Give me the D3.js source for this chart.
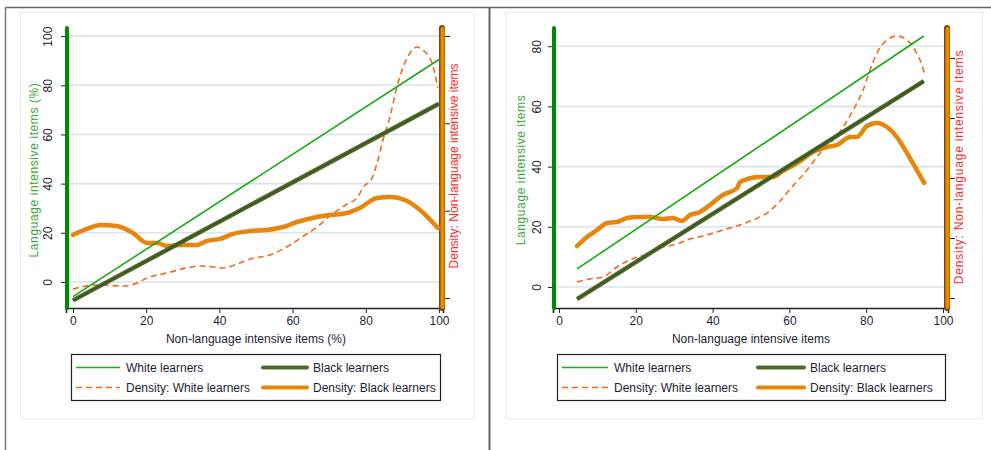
<!DOCTYPE html>
<html>
<head>
<meta charset="utf-8">
<script src="https://cdn.jsdelivr.net/npm/d3@7"></script>
<style>
  body { margin: 0; background: #fff; }
  svg { display: block; font-family: "Liberation Sans", Arial, sans-serif; }
</style>
</head>
<body>
<div class="chart"></div>
<script>
// ===== DATA =====
// panel 1: all items (%), panel 2: items
const fitX1 = [0, 100];
const white1 = [-6, 90.5];
const black1 = [-7.5, 72.5];

const densWx1 = [0, 6.6, 13.7, 17.5, 20.2, 25.7, 31.1, 34.7, 38.3, 41, 45.6, 48.4, 53.8, 59.3, 63.4, 66.7, 70.2, 74.9, 77.6, 79.8, 81.1, 83.1, 84.7, 86.6, 88.5, 90.2, 92.1, 94, 95.6, 98.1, 99.7];
const densWy1 = [1.03, 1.49, 1.37, 1.72, 2.29, 2.86, 3.44, 3.66, 3.55, 3.44, 4.01, 4.47, 4.92, 6.07, 7.21, 8.13, 9.39, 10.76, 11.45, 12.94, 13.28, 15.46, 18.09, 20.73, 24.16, 26.45, 28.05, 28.74, 28.4, 26.91, 24.05];
const densBx1 = [0, 3.8, 7.4, 12, 16.4, 20.2, 23, 25.7, 29.2, 33.9, 36.6, 40.2, 43.7, 48.4, 53, 57.4, 61.2, 66.7, 70.2, 74.9, 78.4, 83.1, 86.6, 91.3, 94.8, 99.7];
const densBy1 = [7.21, 7.9, 8.36, 8.24, 7.44, 6.3, 6.3, 5.95, 6.07, 6.07, 6.53, 6.76, 7.33, 7.67, 7.79, 8.13, 8.7, 9.28, 9.5, 9.73, 10.31, 11.45, 11.57, 11.11, 10.08, 8.02];

const fitX2 = [4.7, 95];
const white2 = [6.0, 83.4];
const black2 = [-4.0, 68.4];

const densWx2 = [4.7, 8.1, 11.5, 15.1, 18.5, 22.9, 27.1, 30.7, 34.1, 37.5, 42.7, 47.1, 50.5, 54.2, 57.6, 60.2, 64.6, 68, 71.4, 74, 76.6, 79.2, 81, 82.8, 85.4, 88, 90.6, 92.7, 94.5, 95.3];
const densWy2 = [2.67, 3.17, 3.5, 5.17, 6.33, 7.33, 8.5, 9, 9.83, 10.33, 11.33, 12.17, 13, 14.17, 16.17, 18.17, 21.33, 24.17, 26.33, 28.5, 31.33, 34.67, 38, 40.83, 43, 43.67, 43, 41.33, 38.83, 37.17];
const densBx2 = [4.7, 7.3, 9.9, 12.5, 15.1, 17.7, 20.3, 23.7, 27.1, 29.7, 32, 34.1, 36.7, 39.3, 42.7, 46.4, 47.1, 52.3, 55.7, 58.3, 62.8, 66.1, 69.8, 72.4, 75.8, 77.6, 80.2, 82.8, 85.4, 88, 90.6, 93.2, 95.1];
const densBy2 = [8.67, 10.17, 11.33, 12.5, 12.67, 13.33, 13.5, 13.5, 13.17, 13.33, 12.83, 13.83, 14.33, 15.5, 17.17, 18.33, 19.33, 20.17, 20.17, 21.17, 22.83, 24.33, 25.17, 25.5, 26.83, 26.83, 28.67, 29.17, 28.5, 26.83, 24.17, 21.33, 19.17];

const xTicks = [0, 20, 40, 60, 80, 100];
const yTicks1 = [0, 20, 40, 60, 80, 100];
const yTicks2 = [0, 20, 40, 60, 80];
const densTicks1 = [0, 10, 20, 30];       // density x 1000
const densTicks2 = [0, 10, 20, 30, 40];

const legendLabels = ["White learners", "Black learners", "Density: White learners", "Density: Black learners"];

// ===== STYLES =====
const C = {
  white: "#18a818",
  black: "#4f6b2c",
  blackEdge: "#3a4f1e",
  densW: "#f26a1c",
  densB: "#e8850c",
  grid: "#d9e3ea",
  text: "#1e1e32",
  yTitle: "#3aa63a",
  y2Title: "#ff2b2b"
};

const svg = d3.select(".chart").append("svg")
  .attr("width", 991).attr("height", 450);

// outer frames
svg.append("line").attr("x1", 5).attr("x2", 991).attr("y1", 7.5).attr("y2", 7.5).attr("stroke", "#666").attr("stroke-width", 1.5);
svg.append("line").attr("x1", 5.5).attr("x2", 5.5).attr("y1", 7).attr("y2", 450).attr("stroke", "#777").attr("stroke-width", 1.5);
svg.append("line").attr("x1", 489.5).attr("x2", 489.5).attr("y1", 7).attr("y2", 450).attr("stroke", "#666").attr("stroke-width", 2);

function drawPanel(p) {
  const g = svg.append("g");

  // light inner frame
  g.append("rect")
    .attr("x", p.frame[0]).attr("y", 12.5)
    .attr("width", p.frame[1] - p.frame[0]).attr("height", 406.5)
    .attr("fill", "none").attr("stroke", "#e4ecef").attr("stroke-width", 1);

  const x = d3.scaleLinear().domain(p.xDom).range([p.xr[0], p.xr[1]]);
  const y = d3.scaleLinear().domain(p.yDom).range([308, 28]);
  const y2 = d3.scaleLinear().domain(p.y2Dom).range([308, 28]);

  // gridlines
  g.append("g").selectAll("line").data(p.yTicks).join("line")
    .attr("x1", p.xr[0] + 3).attr("x2", p.xr[1] - 3)
    .attr("y1", d => y(d)).attr("y2", d => y(d))
    .attr("stroke", C.grid).attr("stroke-width", 1.6);

  // x axis
  const xAxis = g.append("g").attr("transform", "translate(0,308)")
    .call(d3.axisBottom(x).tickValues(xTicks).tickSize(5).tickPadding(3));
  xAxis.select(".domain").attr("stroke", "#222").attr("stroke-width", 1.6);
  xAxis.selectAll(".tick line").attr("stroke", "#222");
  xAxis.selectAll("text").attr("font-size", 12).attr("fill", C.text);

  g.append("text")
    .attr("x", (x(0) + x(100)) / 2).attr("y", 343)
    .attr("text-anchor", "middle").attr("font-size", 12).attr("fill", C.text)
    .text(p.xTitle);

  // left y axis, labels turned upright
  const yAxis = g.append("g").attr("transform", `translate(${p.xr[0]},0)`)
    .call(d3.axisLeft(y).tickValues(p.yTicks).tickSize(5));
  yAxis.select(".domain").remove();
  yAxis.selectAll(".tick line").attr("stroke", "#222");
  yAxis.selectAll(".tick text")
    .attr("font-size", 12).attr("fill", C.text)
    .attr("text-anchor", "middle").attr("x", 0).attr("dy", "0.35em")
    .attr("transform", `translate(${p.yLabOff},0) rotate(-90)`);
  g.append("line")
    .attr("x1", p.xr[0] + 1).attr("x2", p.xr[0] + 1).attr("y1", 28).attr("y2", 308)
    .attr("stroke", "#008a00").attr("stroke-width", 4).attr("stroke-linecap", "round");

  g.append("text")
    .attr("transform", `translate(${p.yTitleX},${(y.range()[0] + y.range()[1]) / 2 + 2}) rotate(-90)`)
    .attr("text-anchor", "middle").attr("font-size", 12).attr("fill", C.yTitle)
    .attr("letter-spacing", 0.6)
    .text(p.yTitle);

  // right y axis (density)
  const y2Axis = g.append("g").attr("transform", `translate(${p.xr[1] + 2},0)`)
    .call(d3.axisRight(y2).tickValues(p.y2Ticks).tickSize(5).tickFormat(""));
  y2Axis.select(".domain").remove();
  y2Axis.selectAll(".tick line").attr("stroke", "#222");
  g.append("line")
    .attr("x1", p.xr[1] - 1).attr("x2", p.xr[1] - 1).attr("y1", 28).attr("y2", 308)
    .attr("stroke", "#7a4a10").attr("stroke-width", 6).attr("stroke-linecap", "round");
  g.append("line")
    .attr("x1", p.xr[1] - 0.5).attr("x2", p.xr[1] - 0.5).attr("y1", 29).attr("y2", 307)
    .attr("stroke", "#ee8a00").attr("stroke-width", 4).attr("stroke-linecap", "round");

  g.append("text")
    .attr("transform", `translate(${p.y2TitleX},${p.y2TitleY}) rotate(-90)`)
    .attr("text-anchor", "middle").attr("font-size", 12).attr("fill", C.y2Title)
    .attr("letter-spacing", p.y2Spacing)
    .text("Density: Non-language intensive items");

  // series
  const line = d3.line().x(d => x(d[0])).y(d => y(d[1]));
  const dline = d3.line().x(d => x(d[0])).y(d => y2(d[1])).curve(d3.curveMonotoneX);

  g.append("path").datum(d3.zip(p.densWx, p.densWy)).attr("d", dline)
    .attr("fill", "none").attr("stroke", C.densW).attr("stroke-width", 1.6)
    .attr("stroke-dasharray", "6,4");
  g.append("path").datum(d3.zip(p.densBx, p.densBy)).attr("d", dline)
    .attr("fill", "none").attr("stroke", C.densB).attr("stroke-width", 4.5)
    .attr("stroke-linejoin", "round").attr("stroke-linecap", "round");
  g.append("path").datum(d3.zip(p.fitX, p.black)).attr("d", line)
    .attr("fill", "none").attr("stroke", C.black).attr("stroke-width", 4.5);
  g.append("path").datum(d3.zip(p.fitX, p.black)).attr("d", line)
    .attr("fill", "none").attr("stroke", C.blackEdge).attr("stroke-width", 1.2);
  g.append("path").datum(d3.zip(p.fitX, p.white)).attr("d", line)
    .attr("fill", "none").attr("stroke", C.white).attr("stroke-width", 1.6);

  // legend
  const L = p.legend;
  g.append("rect").attr("x", L.x + 0.5).attr("y", 354.5).attr("width", L.w).attr("height", 46)
    .attr("fill", "#fff").attr("stroke", "#222").attr("stroke-width", 1.2);
  const styles = [
    { stroke: C.white, w: 1.6, dash: null },
    { stroke: C.black, w: 4, dash: null },
    { stroke: C.densW, w: 1.6, dash: "6,4" },
    { stroke: C.densB, w: 4, dash: null }
  ];
  legendLabels.forEach((lab, i) => {
    const col = i % 2, row = Math.floor(i / 2);
    const lx = L.x + L.col[col], ly = 367.5 + row * 20;
    g.append("line").attr("x1", lx).attr("x2", lx + L.sw).attr("y1", ly).attr("y2", ly)
      .attr("stroke", styles[i].stroke).attr("stroke-width", styles[i].w)
      .attr("stroke-dasharray", styles[i].dash).attr("stroke-linecap", i % 2 ? "round" : "butt");
    g.append("text").attr("x", lx + L.sw + 6).attr("y", ly + 4.5)
      .attr("font-size", 12).attr("fill", C.text).text(lab);
  });
}

drawPanel({
  frame: [20.5, 474.5],
  xr: [66, 443], xDom: [-1.9, 101.1],
  yDom: [-10.6, 103.3], y2Dom: [-1.15, 30.92],
  yTicks: yTicks1, y2Ticks: densTicks1, yLabOff: -18,
  xTitle: "Non-language intensive items (%)",
  yTitle: "Language intensive items (%)", yTitleX: 38,
  y2TitleX: 458, y2TitleY: 166, y2Spacing: 0,
  fitX: fitX1, white: white1, black: black1,
  densWx: densWx1, densWy: densWy1, densBx: densBx1, densBy: densBy1,
  legend: { x: 71, w: 369, col: [5, 192], sw: 44 }
});

drawPanel({
  frame: [506.5, 982.5],
  xr: [553, 948], xDom: [-1.56, 101.3],
  yDom: [-6.98, 86.05], y2Dom: [-1.67, 45],
  yTicks: yTicks2, y2Ticks: densTicks2, yLabOff: -16,
  xTitle: "Non-language intensive items",
  yTitle: "Language intensive items", yTitleX: 525,
  y2TitleX: 963, y2TitleY: 167, y2Spacing: 0.8,
  fitX: fitX2, white: white2, black: black2,
  densWx: densWx2, densWy: densWy2, densBx: densBx2, densBy: densBy2,
  legend: { x: 557, w: 388, col: [5, 201], sw: 46 }
});
</script>
</body>
</html>
